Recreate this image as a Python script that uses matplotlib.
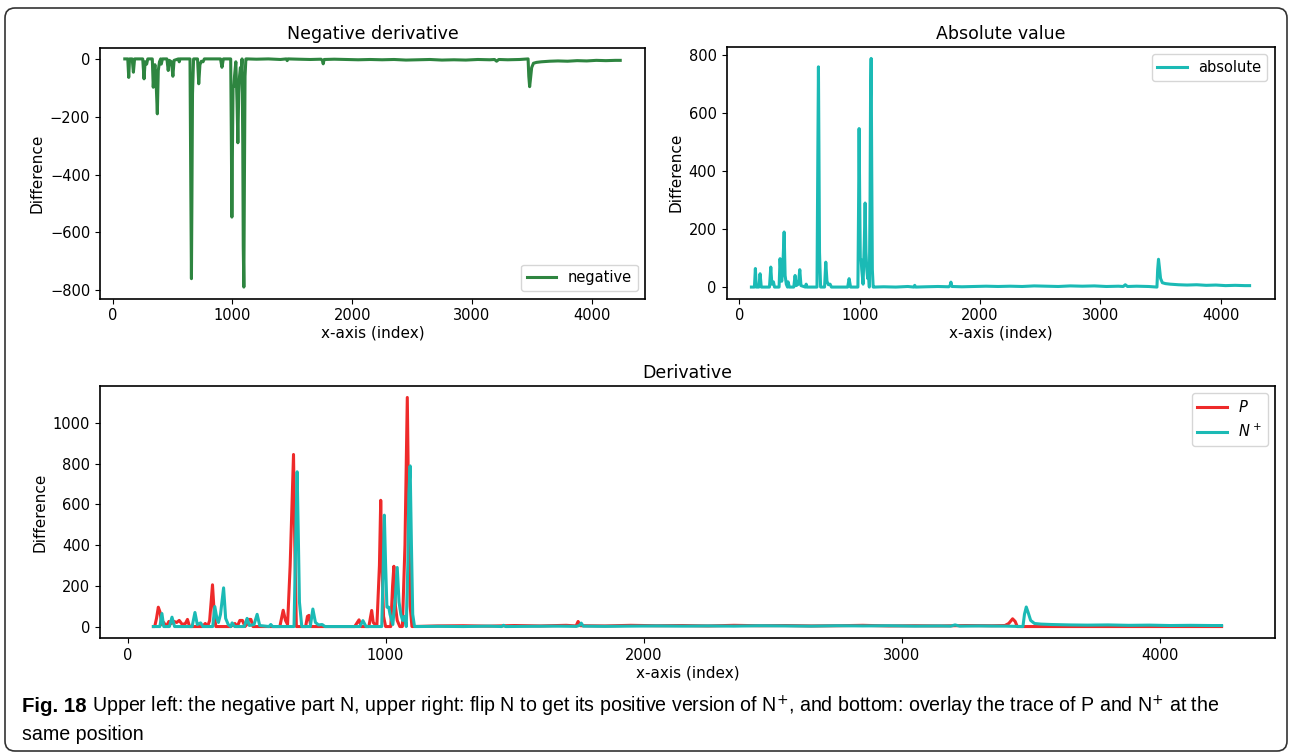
import matplotlib
matplotlib.use("Agg")
import matplotlib.pyplot as plt
from matplotlib.patches import FancyBboxPatch
from matplotlib.transforms import offset_copy

# N+ (flipped negative part of the derivative), sampled at the trace's turning points
nplus_idx = [100, 125, 133, 140, 162, 172, 182, 250, 261, 270, 283, 292, 330, 338, 346,
             352, 360, 372, 380, 390, 400, 405, 415, 452, 463, 472, 490, 502, 512, 548,
             555, 562, 645, 652, 657, 661, 666, 675, 708, 718, 728, 740, 754, 765, 900,
             912, 924, 985, 990, 995, 1000, 1005, 1012, 1017, 1028, 1038, 1045, 1052, 1059,
             1066, 1073, 1080, 1086, 1090, 1095, 1100, 1105, 1112, 1122, 1200, 1300, 1400,
             1450, 1457, 1465, 1550, 1650, 1740, 1752, 1758, 1766, 1850, 1950, 2050, 2150,
             2250, 2350, 2450, 2550, 2650, 2750, 2850, 2950, 3050, 3150, 3190, 3207, 3225,
             3300, 3400, 3470, 3476, 3483, 3490, 3500, 3515, 3540, 3580, 3650, 3720, 3800,
             3880, 3960, 4040, 4120, 4200, 4240]
nplus_val = [0, 0, 64, 0, 0, 46, 0, 0, 69, 10, 18, 0, 0, 98, 40,
             20, 60, 190, 40, 10, 0, 18, 0, 0, 40, 5, 10, 60, 5, 0,
             10, 0, 0, 460, 760, 490, 120, 0, 0, 86, 20, 8, 10, 0, 0,
             29, 0, 0, 250, 547, 300, 95, 95, 60, 10, 150, 290, 120, 60,
             30, 50, 0, 300, 650, 789, 400, 60, 0, 0, 1, 0, 2,
             0, 6, 0, 1, 2, 1, 6, 17, 2, 1, 2, 3, 2,
             3, 2, 4, 3, 2, 4, 3, 4, 2, 3, 2, 8, 2,
             3, 2, 0, 60, 96, 70, 30, 15, 12, 10, 8, 7, 8,
             6, 7, 5, 6, 5, 5]

# P (positive part of the derivative)
p_idx = [100, 105, 112, 119, 126, 132, 140, 150, 160, 170, 180, 190, 200, 212, 224,
         232, 240, 290, 301, 310, 318, 329, 336, 342, 400, 416, 425, 435, 445, 455,
         462, 470, 478, 486, 590, 603, 612, 620, 630, 643, 648, 654, 690, 697, 703,
         710, 880, 897, 905, 935, 946, 952, 966, 976, 981, 986, 992, 1000, 1020, 1027,
         1032, 1038, 1045, 1055, 1065, 1075, 1084, 1090, 1095, 1102, 1200, 1300, 1400,
         1500, 1600, 1700, 1738, 1746, 1755, 1850, 1950, 2050, 2150, 2250, 2350, 2450,
         2550, 2650, 2750, 2850, 2950, 3050, 3150, 3250, 3350, 3400, 3415, 3430, 3440,
         3448, 3600, 3800, 4000, 4240]
p_val = [0, 0, 40, 95, 70, 10, 20, 0, 25, 15, 25, 20, 30, 10, 15,
         35, 0, 0, 15, 0, 30, 205, 60, 0, 0, 15, 0, 30, 30, 0,
         10, 35, 35, 0, 0, 80, 30, 10, 300, 845, 400, 0, 0, 50, 55,
         0, 0, 33, 0, 0, 79, 20, 0, 300, 620, 300, 50, 0, 0, 200,
         296, 100, 30, 0, 0, 400, 1125, 500, 100, 0, 3, 4, 2,
         5, 3, 6, 3, 25, 4, 3, 6, 4, 5, 3, 6, 4,
         5, 3, 4, 6, 3, 4, 3, 5, 4, 5, 15, 38, 25,
         0, 0, 0, 0, 0]

neg_val = [-v for v in nplus_val]

caption_head = "Fig. 18"
caption_line1 = ("Upper left: the negative part N, upper right: flip N to get its positive "
                 "version of N$^{+}$, and bottom: overlay the trace of P and N$^{+}$ at the")
caption_line2 = "same position"

c_green = "#2e8540"
c_cyan = "#1bbab5"
c_red = "#ee2a2a"

plt.rcParams["font.family"] = "DejaVu Sans"
plt.rcParams["xtick.labelsize"] = 10.5
plt.rcParams["ytick.labelsize"] = 10.5
plt.rcParams["axes.labelsize"] = 11
plt.rcParams["axes.titlesize"] = 12.5
plt.rcParams["legend.fontsize"] = 10.5
plt.rcParams["axes.linewidth"] = 1.2

W, H = 1292, 753
fig = plt.figure(figsize=(W / 100, H / 100), dpi=100)


def box(l, t, r, b):
    return [l / W, (H - b) / H, (r - l) / W, (b - t) / H]


ax1 = fig.add_axes(box(100, 47.5, 645, 298.5))
ax2 = fig.add_axes(box(726.5, 47, 1274.5, 298.5))
ax3 = fig.add_axes(box(100, 386, 1275, 638))

ax1.plot(nplus_idx, neg_val, color=c_green, lw=2.2, label="negative")
ax1.set_title("Negative derivative")
ax1.legend(loc="lower right")

ax2.plot(nplus_idx, nplus_val, color=c_cyan, lw=2.2, label="absolute")
ax2.set_title("Absolute value")
ax2.legend(loc="upper right")

ax3.plot(p_idx, p_val, color=c_red, lw=2.2, label="$P$")
ax3.plot(nplus_idx, nplus_val, color=c_cyan, lw=2.2, label="$N^+$")
ax3.set_title("Derivative")
ax3.legend(loc="upper right")

for ax in (ax1, ax2, ax3):
    ax.set_xticks([0, 1000, 2000, 3000, 4000])
    ax.set_xlabel("x-axis (index)", labelpad=2)
    ax.set_ylabel("Difference")

# caption: bold figure number, then the description right after it
cap_font = "Liberation Sans"
cap_size = 14.1
y1 = (H - 706) / H
head = fig.text(22 / W, y1, caption_head, fontweight="bold", fontsize=cap_size + 0.6,
                family=cap_font, va="center")
renderer = fig.canvas.get_renderer()
head_w = head.get_window_extent(renderer).width
fig.text(22 / W, y1, caption_line1, fontsize=cap_size, family=cap_font, va="center",
         transform=offset_copy(fig.transFigure, fig=fig, x=head_w + 5, y=0, units="dots"))
fig.text(22 / W, (H - 735) / H, caption_line2, fontsize=cap_size, family=cap_font,
         va="center")

frame = FancyBboxPatch((5, 2), W - 10, H - 10, boxstyle="round,pad=0,rounding_size=10",
                       transform=None, fill=False, edgecolor="#333333", lw=1.2)
fig.patches.append(frame)

fig.savefig("out.png", dpi=100)
